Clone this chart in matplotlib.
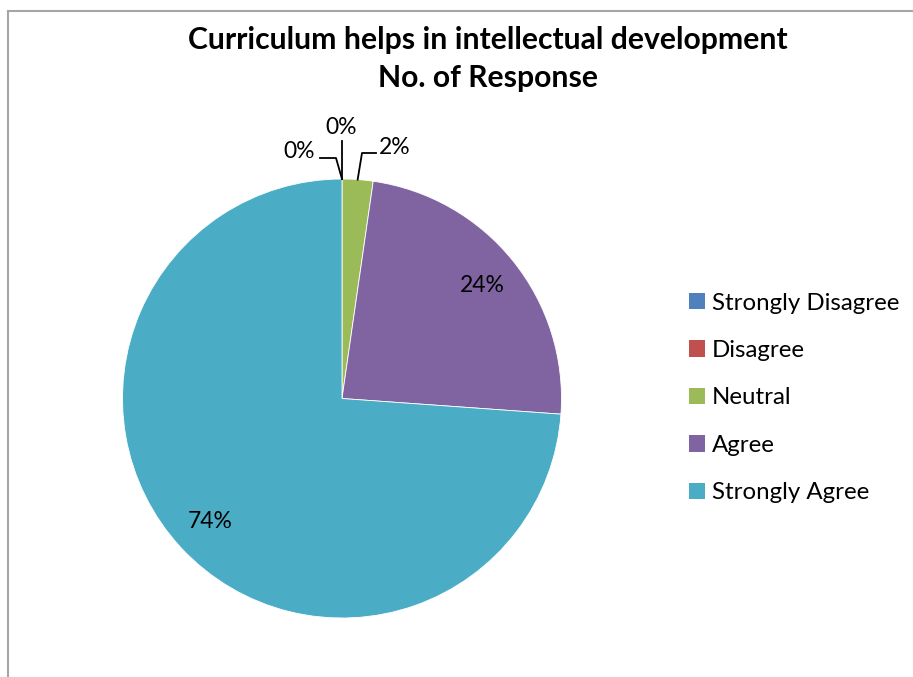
import matplotlib.pyplot as plt
import numpy as np

plt.rcParams['font.family'] = ['Lato', 'DejaVu Sans']

# response counts
categories = ['Strongly Disagree', 'Disagree', 'Neutral', 'Agree', 'Strongly Agree']
responses = [0, 0, 2, 21, 65]
colors = ['#4F81BD', '#C0504D', '#9BBB59', '#8064A2', '#4BACC6']

W, H = 913, 677
fig = plt.figure(figsize=(W / 100, H / 100), dpi=100)
# axes in pixel units, y pointing up
ax = fig.add_axes([0, 0, 1, 1])

cx, cy, r = 342, H - 398.5, 219.5
wedges, _ = ax.pie(responses, colors=colors, startangle=90, counterclock=False,
                   radius=r, center=(cx, cy), frame=True,
                   wedgeprops=dict(edgecolor='white', linewidth=0.6))
ax.set_xlim(0, W)
ax.set_ylim(0, H)
ax.axis('off')

total = sum(responses)
pcts = ['%d%%' % round(v * 100 / total) for v in responses]


def edge_point(w, frac=1.0):
    a = np.deg2rad((w.theta1 + w.theta2) / 2)
    return cx + frac * r * np.cos(a), cy + frac * r * np.sin(a)


fs = 16.5
# inside labels
for i in (3, 4):
    x, y = edge_point(wedges[i], 0.82)
    ax.text(x, y, pcts[i], fontsize=fs, ha='center', va='center', color='black')

# outside labels with leader lines
lc = dict(color='black', lw=1.3, clip_on=False)
x0, y0 = edge_point(wedges[0])
ax.plot([320, 336, x0], [H - 158, H - 158, y0], **lc)
ax.text(299, H - 151, pcts[0], fontsize=fs, ha='center', va='center')

x1, y1 = edge_point(wedges[1])
ax.plot([x1, x1], [H - 141, y1], **lc)
ax.text(341, H - 127, pcts[1], fontsize=fs, ha='center', va='center')

x2, y2 = edge_point(wedges[2])
ax.plot([376, 362, x2], [H - 153, H - 153, y2], **lc)
ax.text(395, H - 147, pcts[2], fontsize=fs, ha='center', va='center')

fig.text(488 / W, 1 - 59 / H, 'Curriculum helps in intellectual development\nNo. of Response',
         ha='center', va='center', fontsize=21.7, fontweight='bold', linespacing=1.45)

leg = ax.legend(wedges, categories, loc='center left', bbox_to_anchor=(677 / W, 1 - 398 / H),
                bbox_transform=fig.transFigure, frameon=False, fontsize=17.3,
                handlelength=0.68, handleheight=0.68, handletextpad=0.28,
                labelspacing=1.1, borderpad=0)
for h in leg.legend_handles:
    h.set_edgecolor('none')

# chart area border (top and left visible)
ax.plot([8, W], [H - 11, H - 11], color='#A6A6A6', lw=1.5, clip_on=False)
ax.plot([8, 8], [H - 11, 0], color='#A6A6A6', lw=1.5, clip_on=False)

fig.savefig('out.png', dpi=100, facecolor='white')
